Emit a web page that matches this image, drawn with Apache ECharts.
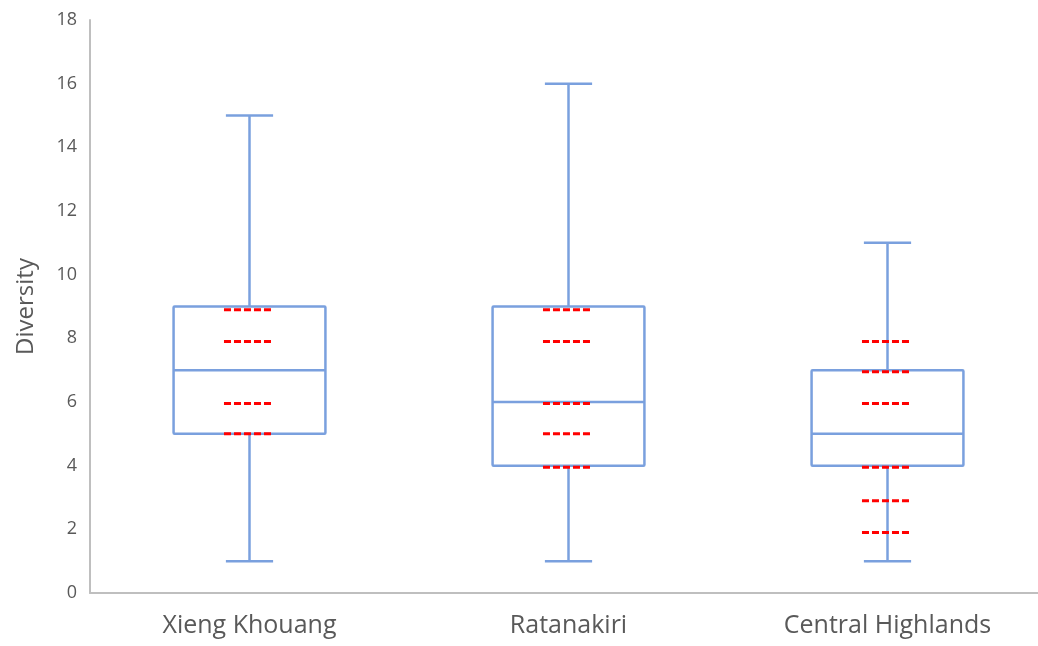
<!DOCTYPE html>
<html>
<head>
<meta charset="utf-8">
<script src="https://cdn.jsdelivr.net/npm/echarts@6/dist/echarts.min.js"></script>
<style>
  html, body { margin: 0; padding: 0; background: #ffffff; }
  #chart { width: 1038px; height: 646px; }
</style>
</head>
<body>
<div id="chart"></div>
<script>
// Sites along the x axis
const categories = ['Xieng Khouang', 'Ratanakiri', 'Central Highlands'];

// Five-number summary per site: [min, Q1, median, Q3, max]
const xiengKhouangBox = [1, 5, 7, 9, 15];
const ratanakiriBox = [1, 4, 6, 9, 16];
const centralHighlandsBox = [1, 4, 5, 7, 11];

// Red dashed reference marks per site
const xiengKhouangMarks = [8.9, 7.9, 5.95, 5.0];
const ratanakiriMarks = [8.9, 7.9, 5.95, 5.0, 3.95];
const centralHighlandsMarks = [7.9, 6.95, 5.95, 3.95, 2.9, 1.9];

// Y axis ticks
const yMin = 0, yMax = 18, yStep = 2;

const boxes = [xiengKhouangBox, ratanakiriBox, centralHighlandsBox];
const marks = [xiengKhouangMarks, ratanakiriMarks, centralHighlandsMarks];

const boxData = boxes.map((b, i) => [i].concat(b));
const markData = [];
marks.forEach((list, i) => list.forEach(v => markData.push([i, v])));

const BOX_COLOR = '#7aa0de';
const TEXT_COLOR = '#595959';
const AXIS_COLOR = '#bfbfbf';
const FONT = '"Open Sans", "Liberation Sans", sans-serif';

function renderBox(params, api) {
  const idx = api.value(0);
  const band = api.size([1, 0])[0];
  const half = band * 0.238;
  const capHalf = band * 0.074;
  const pMin = api.coord([idx, api.value(1)]);
  const pQ1 = api.coord([idx, api.value(2)]);
  const pMed = api.coord([idx, api.value(3)]);
  const pQ3 = api.coord([idx, api.value(4)]);
  const pMax = api.coord([idx, api.value(5)]);
  const cx = pMed[0];
  const style = { stroke: BOX_COLOR, lineWidth: 2.5, fill: null };
  const line = (x1, y1, x2, y2) => ({ type: 'line', shape: { x1, y1, x2, y2 }, style });
  return {
    type: 'group',
    children: [
      line(cx, pQ3[1], cx, pMax[1]),
      line(cx - capHalf, pMax[1], cx + capHalf, pMax[1]),
      line(cx, pQ1[1], cx, pMin[1]),
      line(cx - capHalf, pMin[1], cx + capHalf, pMin[1]),
      {
        type: 'rect',
        shape: { x: cx - half, y: pQ3[1], width: half * 2, height: pQ1[1] - pQ3[1], r: 1 },
        style: { stroke: BOX_COLOR, lineWidth: 2.5, fill: '#ffffff' }
      },
      line(cx - half, pMed[1], cx + half, pMed[1])
    ]
  };
}

function renderMark(params, api) {
  const band = api.size([1, 0])[0];
  const p = api.coord([api.value(0), api.value(1)]);
  return {
    type: 'line',
    shape: { x1: p[0] - band * 0.08, y1: p[1], x2: p[0] + band * 0.072, y2: p[1] },
    style: { stroke: '#ff0000', lineWidth: 3, lineDash: [7, 3] }
  };
}

const chart = echarts.init(document.getElementById('chart'), null, { renderer: 'canvas' });
chart.setOption({
  animation: false,
  backgroundColor: '#ffffff',
  textStyle: { fontFamily: FONT },
  grid: { left: 90, top: 20, bottom: 53, width: 957, containLabel: false, outerBoundsMode: 'none' },
  xAxis: {
    type: 'category',
    data: categories,
    boundaryGap: true,
    axisLine: { show: true, lineStyle: { color: AXIS_COLOR, width: 2 } },
    axisTick: { show: false },
    splitLine: { show: false },
    axisLabel: { color: TEXT_COLOR, fontSize: 25, margin: 20, fontFamily: FONT }
  },
  yAxis: {
    type: 'value',
    min: yMin,
    max: yMax,
    interval: yStep,
    name: 'Diversity',
    nameLocation: 'middle',
    nameRotate: 90,
    nameGap: 52,
    nameTextStyle: { color: TEXT_COLOR, fontSize: 24, fontFamily: FONT },
    axisLine: { show: true, lineStyle: { color: AXIS_COLOR, width: 2 } },
    axisTick: { show: false },
    splitLine: { show: false },
    axisLabel: { color: TEXT_COLOR, fontSize: 18, margin: 13, fontFamily: FONT }
  },
  series: [
    {
      type: 'custom',
      name: 'box',
      renderItem: renderBox,
      encode: { x: 0, y: [1, 2, 3, 4, 5] },
      data: boxData,
      z: 2
    },
    {
      type: 'custom',
      name: 'marks',
      renderItem: renderMark,
      encode: { x: 0, y: 1 },
      data: markData,
      z: 3
    }
  ]
});
</script>
</body>
</html>
